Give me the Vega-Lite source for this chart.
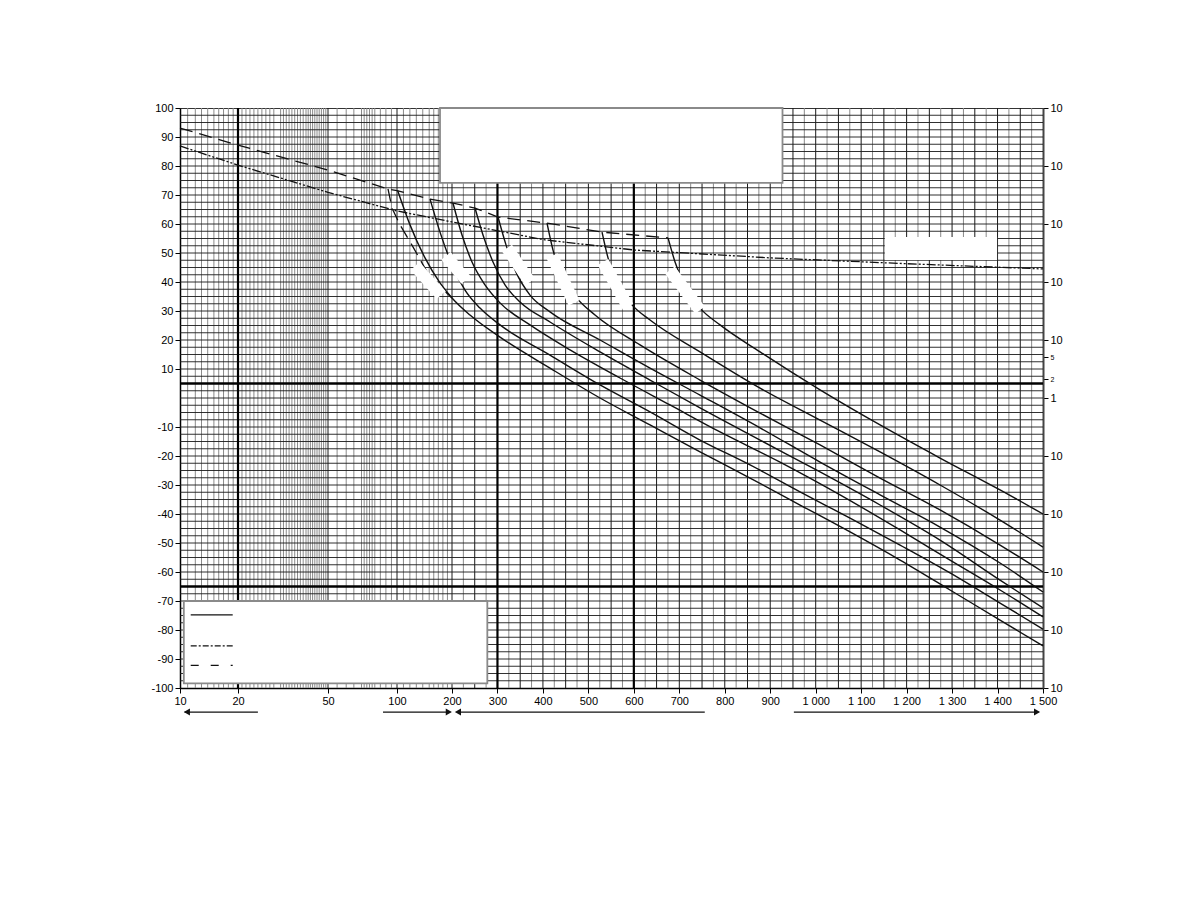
{
"$schema": "https://vega.github.io/schema/vega-lite/v6.json",
"width": 863, "height": 580,
"autosize": "none",
"padding": {"left": 180, "top": 108, "right": 145, "bottom": 230},
"background": "white",
"config": {"view": {"stroke": "#333", "strokeWidth": 1}, "axis": {"labelFont": "Liberation Sans", "labelFontSize": 11, "labelColor": "#000"}},
"datasets": {
"vgray": [{"x":11},{"x":12},{"x":13},{"x":14},{"x":15},{"x":16},{"x":17},{"x":18},{"x":19},{"x":21},{"x":22},{"x":23},{"x":24},{"x":25},{"x":26},{"x":27},{"x":28},{"x":29},{"x":31},{"x":32},{"x":33},{"x":34},{"x":35},{"x":36},{"x":37},{"x":38},{"x":39},{"x":40},{"x":41},{"x":42},{"x":43},{"x":44},{"x":45},{"x":46},{"x":47},{"x":48},{"x":49},{"x":55},{"x":60},{"x":65},{"x":70},{"x":72},{"x":74},{"x":76},{"x":78},{"x":80},{"x":85},{"x":90},{"x":95},{"x":110},{"x":120},{"x":130},{"x":140},{"x":150},{"x":160},{"x":170},{"x":180},{"x":190},{"x":225},{"x":275},{"x":325},{"x":375},{"x":425},{"x":475},{"x":525},{"x":575},{"x":625},{"x":675},{"x":725},{"x":775},{"x":825},{"x":875},{"x":925},{"x":975},{"x":1025},{"x":1075},{"x":1125},{"x":1175},{"x":1225},{"x":1275},{"x":1325},{"x":1375},{"x":1425},{"x":1475}],
"vblack": [{"x":50},{"x":100},{"x":200},{"x":250},{"x":350},{"x":400},{"x":450},{"x":500},{"x":550},{"x":650},{"x":700},{"x":750},{"x":800},{"x":850},{"x":900},{"x":950},{"x":1000},{"x":1050},{"x":1100},{"x":1150},{"x":1200},{"x":1250},{"x":1300},{"x":1350},{"x":1400},{"x":1450}],
"hgrid": [{"y":-97.5},{"y":-95},{"y":-92.5},{"y":-90},{"y":-87.5},{"y":-85},{"y":-82.5},{"y":-80},{"y":-77.5},{"y":-75},{"y":-72.5},{"y":-70},{"y":-67.5},{"y":-65},{"y":-62.5},{"y":-60},{"y":-57.5},{"y":-55},{"y":-52.5},{"y":-50},{"y":-47.5},{"y":-45},{"y":-42.5},{"y":-40},{"y":-37.5},{"y":-35},{"y":-32.5},{"y":-30},{"y":-27.5},{"y":-25},{"y":-22.5},{"y":-20},{"y":-17.5},{"y":-15},{"y":-12.5},{"y":-10},{"y":-7.5},{"y":-5},{"y":-2.5},{"y":0},{"y":2.5},{"y":5},{"y":7.5},{"y":10},{"y":12.5},{"y":15},{"y":17.5},{"y":20},{"y":22.5},{"y":25},{"y":27.5},{"y":30},{"y":32.5},{"y":35},{"y":37.5},{"y":40},{"y":42.5},{"y":45},{"y":47.5},{"y":50},{"y":52.5},{"y":55},{"y":57.5},{"y":60},{"y":62.5},{"y":65},{"y":67.5},{"y":70},{"y":72.5},{"y":75},{"y":77.5},{"y":80},{"y":82.5},{"y":85},{"y":87.5},{"y":90},{"y":92.5},{"y":95},{"y":97.5}],
"vthick": [{"x":20},{"x":300},{"x":600}],
"hthick": [{"y":5},{"y":-65}],
"boxes": [{"x0":173.7,"x1":927,"y0":74.2,"y1":100},{"x0":10.5,"x1":277.7,"y0":-98.4,"y1":-70.0}],
"patches": [{"x0":1152,"x1":1399,"y0":47.6,"y1":55.5}],
"blobs": [
{"b":"B1","x":128,"y":45.5},{"b":"B1","x":175.9,"y":35.5},
{"b":"B2","x":186.8,"y":49.0},{"b":"B2","x":230.8,"y":40.7},
{"b":"B3","x":321,"y":51.7},{"b":"B3","x":371.6,"y":40.0},
{"b":"B4","x":420,"y":49.0},{"b":"B4","x":468.4,"y":32.8},
{"b":"B5","x":532.2,"y":46.9},{"b":"B5","x":587.2,"y":31.4},
{"b":"B6","x":679.6,"y":44.1},{"b":"B6","x":745.6,"y":30.3}],
"dashdot": [{"x":10,"y":86.9},{"x":20,"y":80.3},{"x":50,"y":70.9},{"x":100,"y":64.5},{"x":200,"y":60.7},{"x":405,"y":54.5},{"x":603,"y":51.0},{"x":902,"y":48.3},{"x":1185,"y":46.4},{"x":1500,"y":44.5}],
"dashed": [
{"c":"E","x":10,"y":93.1},{"c":"E","x":20,"y":87.2},{"c":"E","x":50,"y":78.6},{"c":"E","x":91.9,"y":72.1},{"c":"E","x":100,"y":71.5},{"c":"E","x":151.8,"y":68.6},{"c":"E","x":202.2,"y":67.2},{"c":"E","x":250.6,"y":65.5},{"c":"E","x":301.2,"y":62.4},{"c":"E","x":409,"y":60.3},{"c":"E","x":530,"y":57.2},{"c":"E","x":675.2,"y":55.2},
{"c":"S","x":91.9,"y":72.1},{"c":"S","x":95.5,"y":65.5},{"c":"S","x":104.7,"y":59.7},{"c":"S","x":124.8,"y":52.1},{"c":"S","x":151.8,"y":41.7},{"c":"S","x":200,"y":34.5}],
"curves": [
{"c":"C1","x":101.1,"y":71.5},{"c":"C1","x":120.2,"y":59.7},{"c":"C1","x":143.5,"y":48.3},{"c":"C1","x":173.7,"y":39.7},{"c":"C1","x":200,"y":34.5},{"c":"C1","x":239.6,"y":28.6},{"c":"C1","x":305.6,"y":21.0},{"c":"C1","x":415.6,"y":10.3},{"c":"C1","x":525.6,"y":0},{"c":"C1","x":635.6,"y":-9.3},{"c":"C1","x":745.6,"y":-18.6},{"c":"C1","x":855.6,"y":-27.6},{"c":"C1","x":965.6,"y":-36.9},{"c":"C1","x":1075.6,"y":-46.2},{"c":"C1","x":1185.6,"y":-55.9},{"c":"C1","x":1295.5,"y":-66.2},{"c":"C1","x":1405.5,"y":-76.6},{"c":"C1","x":1500,"y":-85.5},
{"c":"C2","x":151.8,"y":68.6},{"c":"C2","x":173.7,"y":57.2},{"c":"C2","x":200,"y":45.9},{"c":"C2","x":228.6,"y":37.2},{"c":"C2","x":261.6,"y":31.0},{"c":"C2","x":305.6,"y":25.2},{"c":"C2","x":415.6,"y":14.8},{"c":"C2","x":525.6,"y":4.5},{"c":"C2","x":635.6,"y":-4.8},{"c":"C2","x":745.6,"y":-14.5},{"c":"C2","x":855.6,"y":-23.1},{"c":"C2","x":965.6,"y":-32.4},{"c":"C2","x":1075.6,"y":-41.4},{"c":"C2","x":1185.6,"y":-50.7},{"c":"C2","x":1295.5,"y":-60.3},{"c":"C2","x":1405.5,"y":-70.7},{"c":"C2","x":1500,"y":-79.7},
{"c":"C3","x":202.2,"y":67.2},{"c":"C3","x":222,"y":56.2},{"c":"C3","x":244,"y":46.9},{"c":"C3","x":272.6,"y":39.0},{"c":"C3","x":305.6,"y":32.8},{"c":"C3","x":371.6,"y":25.2},{"c":"C3","x":459.6,"y":16.6},{"c":"C3","x":569.6,"y":6.9},{"c":"C3","x":679.6,"y":-2.4},{"c":"C3","x":789.6,"y":-11.7},{"c":"C3","x":921.6,"y":-22.1},{"c":"C3","x":1053.6,"y":-33.4},{"c":"C3","x":1185.6,"y":-45.5},{"c":"C3","x":1295.5,"y":-55.9},{"c":"C3","x":1405.5,"y":-66.2},{"c":"C3","x":1500,"y":-75.5},
{"c":"C4","x":250.6,"y":65.5},{"c":"C4","x":268.2,"y":56.2},{"c":"C4","x":290.2,"y":46.9},{"c":"C4","x":316.6,"y":39.0},{"c":"C4","x":349.6,"y":33.1},{"c":"C4","x":415.6,"y":26.2},{"c":"C4","x":525.6,"y":15.9},{"c":"C4","x":635.6,"y":6.2},{"c":"C4","x":745.6,"y":-3.4},{"c":"C4","x":877.6,"y":-14.5},{"c":"C4","x":1009.6,"y":-25.5},{"c":"C4","x":1141.6,"y":-36.9},{"c":"C4","x":1273.5,"y":-49.0},{"c":"C4","x":1405.5,"y":-62.8},{"c":"C4","x":1500,"y":-72.4},
{"c":"C5","x":301.2,"y":62.4},{"c":"C5","x":318.8,"y":52.8},{"c":"C5","x":340.8,"y":43.4},{"c":"C5","x":371.6,"y":35.5},{"c":"C5","x":415.6,"y":29.7},{"c":"C5","x":525.6,"y":20.0},{"c":"C5","x":635.6,"y":10.3},{"c":"C5","x":745.6,"y":1.0},{"c":"C5","x":877.6,"y":-10.3},{"c":"C5","x":1009.6,"y":-22.1},{"c":"C5","x":1141.6,"y":-33.4},{"c":"C5","x":1273.5,"y":-44.5},{"c":"C5","x":1405.5,"y":-56.9},{"c":"C5","x":1500,"y":-66.9},
{"c":"C6","x":409,"y":60.3},{"c":"C6","x":422.2,"y":51.0},{"c":"C6","x":442,"y":42.4},{"c":"C6","x":470.6,"y":35.2},{"c":"C6","x":514.6,"y":28.6},{"c":"C6","x":613.6,"y":18.3},{"c":"C6","x":745.6,"y":6.2},{"c":"C6","x":877.6,"y":-5.2},{"c":"C6","x":1009.6,"y":-16.2},{"c":"C6","x":1141.6,"y":-27.6},{"c":"C6","x":1273.5,"y":-38.6},{"c":"C6","x":1405.5,"y":-50.7},{"c":"C6","x":1500,"y":-60.0},
{"c":"C7","x":530,"y":57.2},{"c":"C7","x":543.2,"y":48.3},{"c":"C7","x":565.2,"y":39.0},{"c":"C7","x":596,"y":32.1},{"c":"C7","x":635.6,"y":26.9},{"c":"C7","x":745.6,"y":15.9},{"c":"C7","x":877.6,"y":3.4},{"c":"C7","x":1009.6,"y":-7.6},{"c":"C7","x":1141.6,"y":-18.6},{"c":"C7","x":1273.5,"y":-30.0},{"c":"C7","x":1405.5,"y":-42.1},{"c":"C7","x":1500,"y":-51.4},
{"c":"C8","x":675.2,"y":55.2},{"c":"C8","x":690.6,"y":46.9},{"c":"C8","x":712.6,"y":38.3},{"c":"C8","x":745.6,"y":31.0},{"c":"C8","x":789.6,"y":25.2},{"c":"C8","x":877.6,"y":15.9},{"c":"C8","x":1009.6,"y":2.8},{"c":"C8","x":1141.6,"y":-9.3},{"c":"C8","x":1273.5,"y":-20.7},{"c":"C8","x":1405.5,"y":-31.7},{"c":"C8","x":1500,"y":-40.0}],
"legend": [{"x0":11.4,"x1":18.9,"y":-74.8,"s":"solid"},{"x0":11.4,"x1":18.9,"y":-85.5,"s":"dashdot"},{"x0":11.4,"x1":18.9,"y":-92.2,"s":"dashed"}],
"arrows": [{"x0":10.6,"x1":25,"y":-108.3},{"x0":87.4,"x1":196,"y":-108.3},{"x0":212,"x1":756,"y":-108.3},{"x0":952,"x1":1490,"y":-108.3}],
"heads": [{"x":10.9,"y":-108.3,"d":"L"},{"x":193,"y":-108.3,"d":"R"},{"x":213,"y":-108.3,"d":"L"},{"x":1487,"y":-108.3,"d":"R"}]
},
"resolve": {"axis": {"x": "independent", "y": "independent"}},
"layer": [
{"data": {"name": "vgray"}, "mark": {"type": "rule", "color": "#8a8a8a", "strokeWidth": 1},
 "encoding": {"x": {"field": "x", "type": "quantitative",
   "scale": {"type": "linear", "domain": [10,12,15,20,30,40,50,60,70,80,100,150,200,1500], "range": [0,15.3,33.9,58,97.8,126,148,166.2,181.5,194.8,217,249.2,272,863], "zero": false, "nice": false},
   "axis": {"values": [10,20,50,100,200,300,400,500,600,700,800,900,1000,1100,1200,1300,1400,1500], "format": "d", "labelExpr": "datum.value >= 1000 ? '1 ' + slice(datum.label, 1) : datum.label", "title": null, "grid": false, "domain": true, "domainColor": "#000", "domainWidth": 1.5, "tickColor": "#000", "tickSize": 5, "labelPadding": 2, "labelOverlap": false, "labelFlush": false}}}},
{"data": {"name": "vblack"}, "mark": {"type": "rule", "color": "#1a1a1a", "strokeWidth": 1},
 "encoding": {"x": {"field": "x", "type": "quantitative", "axis": null}}},
{"data": {"name": "hgrid"}, "mark": {"type": "rule", "color": "#1a1a1a", "strokeWidth": 0.9},
 "encoding": {"y": {"field": "y", "type": "quantitative", "scale": {"domain": [-100, 100], "zero": false, "nice": false},
   "axis": {"values": [-100,-90,-80,-70,-60,-50,-40,-30,-20,-10,10,20,30,40,50,60,70,80,90,100], "labelExpr": "toString(datum.value)", "title": null, "grid": false, "domain": true, "domainColor": "#000", "domainWidth": 1.5, "tickColor": "#000", "tickSize": 5, "labelPadding": 2, "labelOverlap": false, "labelFlush": false}}}},
{"data": {"name": "vthick"}, "mark": {"type": "rule", "color": "#000", "strokeWidth": 2.2},
 "encoding": {"x": {"field": "x", "type": "quantitative", "axis": null}}},
{"data": {"name": "hthick"}, "mark": {"type": "rule", "color": "#000", "strokeWidth": 2.5},
 "encoding": {"y": {"field": "y", "type": "quantitative",
   "axis": {"orient": "right", "values": [-100,-80,-60,-40,-20,0,6.5,14,20,40,60,80,100], "labelExpr": "datum.value == 0 ? '1' : (datum.value == 6.5 ? '2' : (datum.value == 14 ? '5' : '10'))", "labelFontSize": {"condition": {"test": "datum.value == 6.5 || datum.value == 14", "value": 7}, "value": 11}, "title": null, "grid": false, "domain": true, "domainColor": "#444", "domainWidth": 2, "tickColor": "#000", "tickSize": 5, "labelPadding": 2, "labelOverlap": false, "labelFlush": false}}}},
{"data": {"name": "boxes"}, "mark": {"type": "rect", "fill": "white", "stroke": "#8a8a8a", "strokeWidth": 1.8},
 "encoding": {"x": {"field": "x0", "type": "quantitative", "axis": null}, "x2": {"field": "x1"}, "y": {"field": "y0", "type": "quantitative", "axis": null}, "y2": {"field": "y1"}}},
{"data": {"name": "patches"}, "mark": {"type": "rect", "fill": "white"},
 "encoding": {"x": {"field": "x0", "type": "quantitative", "axis": null}, "x2": {"field": "x1"}, "y": {"field": "y0", "type": "quantitative", "axis": null}, "y2": {"field": "y1"}}},
{"data": {"name": "dashdot"}, "mark": {"type": "line", "color": "#111", "strokeWidth": 1.3, "strokeDash": [9, 2, 2, 2, 2, 2]},
 "encoding": {"x": {"field": "x", "type": "quantitative", "axis": null}, "y": {"field": "y", "type": "quantitative", "axis": null}}},
{"data": {"name": "dashed"}, "mark": {"type": "line", "color": "#111", "strokeWidth": 1.3, "strokeDash": [13, 7]},
 "encoding": {"x": {"field": "x", "type": "quantitative", "axis": null}, "y": {"field": "y", "type": "quantitative", "axis": null}, "detail": {"field": "c"}}},
{"data": {"name": "curves"}, "mark": {"type": "line", "color": "#111", "strokeWidth": 1.4, "interpolate": "monotone"},
 "encoding": {"x": {"field": "x", "type": "quantitative", "axis": null}, "y": {"field": "y", "type": "quantitative", "axis": null}, "detail": {"field": "c"}}},
{"data": {"name": "blobs"}, "mark": {"type": "line", "color": "white", "strokeWidth": 12, "strokeCap": "butt"},
 "encoding": {"x": {"field": "x", "type": "quantitative", "axis": null}, "y": {"field": "y", "type": "quantitative", "axis": null}, "detail": {"field": "b"}}},
{"data": {"name": "legend"}, "mark": {"type": "rule", "color": "#111", "strokeWidth": 1.3},
 "encoding": {"x": {"field": "x0", "type": "quantitative", "axis": null}, "x2": {"field": "x1"}, "y": {"field": "y", "type": "quantitative", "axis": null},
   "strokeDash": {"field": "s", "type": "nominal", "scale": {"domain": ["solid", "dashdot", "dashed"], "range": [[1, 0], [6, 2, 2, 2], [8, 12]]}, "legend": null}}},
{"data": {"name": "arrows"}, "mark": {"type": "rule", "color": "#111", "strokeWidth": 1.3, "clip": false},
 "encoding": {"x": {"field": "x0", "type": "quantitative", "axis": null}, "x2": {"field": "x1"}, "y": {"field": "y", "type": "quantitative", "axis": null}}},
{"data": {"name": "heads"}, "mark": {"type": "point", "filled": true, "color": "#111", "opacity": 1, "size": 50, "clip": false},
 "encoding": {"x": {"field": "x", "type": "quantitative", "axis": null}, "y": {"field": "y", "type": "quantitative", "axis": null},
   "shape": {"field": "d", "type": "nominal", "scale": {"domain": ["L", "R"], "range": ["triangle-left", "triangle-right"]}, "legend": null}}}
]
}
